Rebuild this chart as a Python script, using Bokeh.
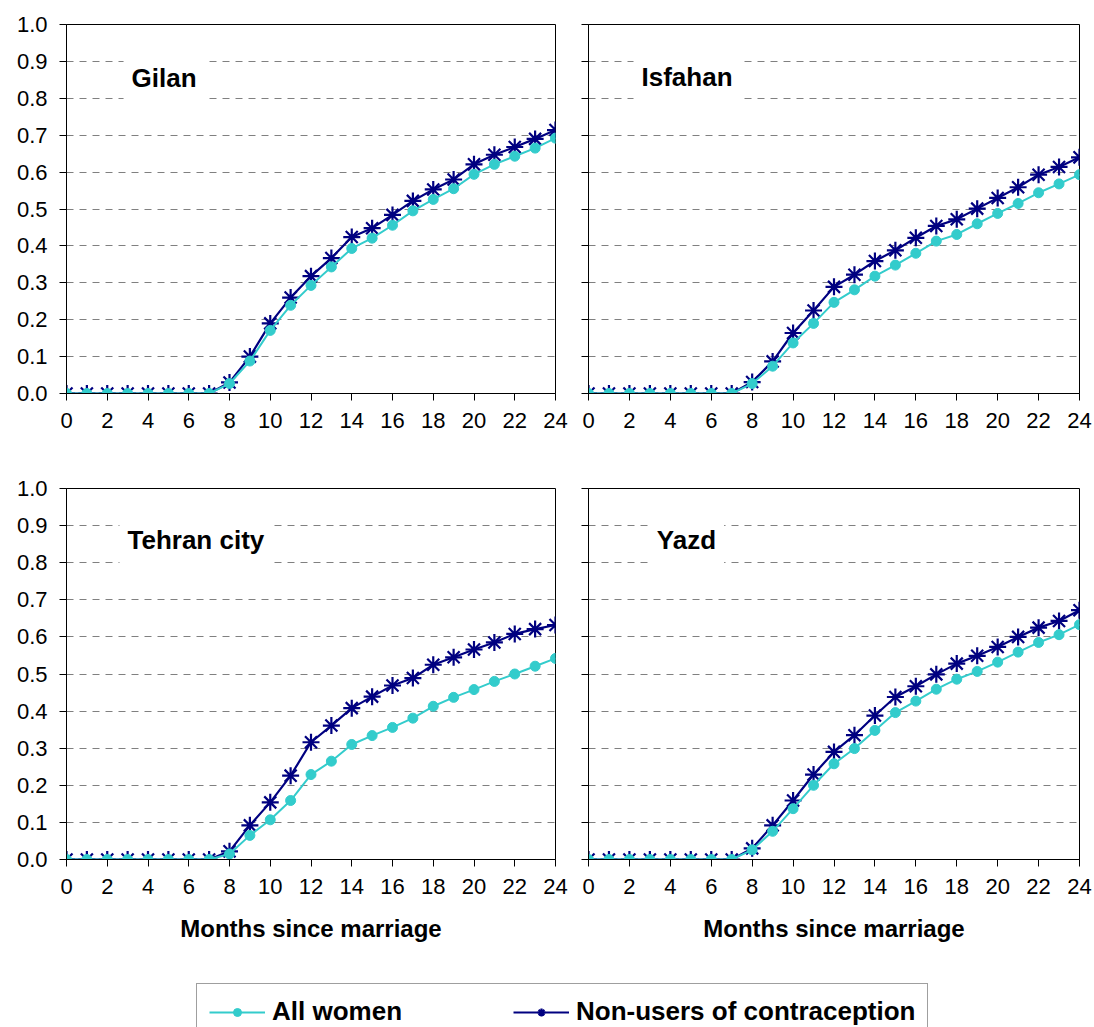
from bokeh.plotting import figure
from bokeh.layouts import column, row
from bokeh.models import (FixedTicker, Range1d, Label, Legend, LegendItem, NumeralTickFormatter,
                          CustomJSTickFormatter)
from bokeh.embed import file_html
from bokeh.resources import INLINE

months = [0, 1, 2, 3, 4, 5, 6, 7, 8, 9, 10, 11, 12, 13, 14, 15, 16, 17, 18, 19, 20, 21, 22, 23, 24]
x_ticks = [0, 2, 4, 6, 8, 10, 12, 14, 16, 18, 20, 22, 24]
y_ticks = [0.0, 0.1, 0.2, 0.3, 0.4, 0.5, 0.6, 0.7, 0.8, 0.9, 1.0]
grid_ticks = [0.1, 0.2, 0.3, 0.4, 0.5, 0.6, 0.7, 0.8, 0.9]

series_names = ["All women", "Non-users of contraception"]

gilan_all = [0, 0, 0, 0, 0, 0, 0, 0, 0.027, 0.088, 0.171, 0.239, 0.293, 0.343, 0.393, 0.421,
             0.456, 0.495, 0.526, 0.555, 0.594, 0.621, 0.643, 0.665, 0.692]
gilan_non = [0, 0, 0, 0, 0, 0, 0, 0, 0.030, 0.100, 0.190, 0.260, 0.318, 0.367, 0.424, 0.448,
             0.484, 0.522, 0.553, 0.580, 0.621, 0.647, 0.668, 0.690, 0.714]

isfahan_all = [0, 0, 0, 0, 0, 0, 0, 0, 0.027, 0.074, 0.137, 0.190, 0.247, 0.281, 0.318, 0.348,
               0.380, 0.413, 0.431, 0.460, 0.488, 0.515, 0.544, 0.568, 0.593]
isfahan_non = [0, 0, 0, 0, 0, 0, 0, 0, 0.031, 0.087, 0.164, 0.225, 0.289, 0.322, 0.359, 0.388,
               0.422, 0.454, 0.472, 0.501, 0.530, 0.559, 0.593, 0.614, 0.640]

tehran_all = [0, 0, 0, 0, 0, 0, 0, 0, 0.015, 0.065, 0.107, 0.159, 0.229, 0.265, 0.310, 0.334,
              0.356, 0.381, 0.413, 0.437, 0.458, 0.480, 0.500, 0.521, 0.542]
tehran_non = [0, 0, 0, 0, 0, 0, 0, 0, 0.022, 0.092, 0.154, 0.226, 0.316, 0.361, 0.408, 0.439,
              0.469, 0.489, 0.525, 0.545, 0.566, 0.585, 0.608, 0.621, 0.632]

yazd_all = [0, 0, 0, 0, 0, 0, 0, 0, 0.026, 0.076, 0.137, 0.200, 0.258, 0.299, 0.348, 0.396,
            0.427, 0.459, 0.486, 0.507, 0.532, 0.559, 0.585, 0.606, 0.633]
yazd_non = [0, 0, 0, 0, 0, 0, 0, 0, 0.030, 0.092, 0.159, 0.229, 0.290, 0.335, 0.388, 0.438,
            0.467, 0.499, 0.528, 0.549, 0.573, 0.600, 0.625, 0.643, 0.672]

CYAN = "#33CCCC"
NAVY = "#000080"
FONT = "Liberation Sans"


def draw_series(p, all_v, non_v):
    ln = p.line(months, non_v, line_color=NAVY, line_width=2.2)
    sn = p.scatter(months, non_v, marker="asterisk", size=17, line_color=NAVY, line_width=2.2)
    la = p.line(months, all_v, line_color=CYAN, line_width=2)
    sa = p.scatter(months, all_v, marker="circle", size=10, fill_color=CYAN, line_color=CYAN)
    return (la, sa), (ln, sn)


def panel(title, all_v, non_v, width, height, bl, br, bt, bb, show_ylabels, show_xlabel,
          tx, ty):
    p = figure(width=width, height=height, x_range=Range1d(0, 24), y_range=Range1d(0, 1),
               output_backend="svg", toolbar_location=None,
               min_border_left=bl, min_border_right=br, min_border_top=bt, min_border_bottom=bb)
    p.background_fill_color = "white"
    p.border_fill_color = "white"
    p.outline_line_color = "black"
    p.outline_line_width = 1
    p.xgrid.visible = False
    p.ygrid.ticker = FixedTicker(ticks=grid_ticks)
    p.ygrid.grid_line_color = "#808080"
    p.ygrid.grid_line_dash = "7 6"
    p.ygrid.grid_line_width = 1

    p.xaxis.ticker = FixedTicker(ticks=x_ticks)
    p.yaxis.ticker = FixedTicker(ticks=y_ticks)
    p.yaxis.formatter = NumeralTickFormatter(format="0.0")
    for ax in (p.xaxis, p.yaxis):
        ax.axis_line_color = "black"
        ax.axis_line_width = 1
        ax.major_tick_line_color = "black"
        ax.major_tick_in = 0
        ax.major_tick_out = 7
        ax.minor_tick_line_color = None
        ax.major_label_text_font = FONT
        ax.major_label_text_font_size = "22px"
        ax.major_label_text_color = "black"
    p.xaxis.major_label_standoff = 12
    p.yaxis.major_label_standoff = 12
    if not show_ylabels:
        p.yaxis.formatter = CustomJSTickFormatter(code="return ''")
        p.yaxis.major_label_standoff = 0
    if show_xlabel:
        p.xaxis.axis_label = "Months since marriage"
        p.xaxis.axis_label_text_font = FONT
        p.xaxis.axis_label_text_font_size = "24px"
        p.xaxis.axis_label_text_font_style = "bold"
        p.xaxis.axis_label_text_color = "black"
        p.xaxis.axis_label_standoff = 18

    draw_series(p, all_v, non_v)

    lab = Label(x=tx, y=ty, text=title, text_font=FONT, text_font_size="26px",
                text_font_style="bold", text_color="black", text_align="left",
                text_baseline="middle", background_fill_color="white",
                background_fill_alpha=1.0, padding=8)
    p.add_layout(lab)
    return p


tl = panel("Gilan", gilan_all, gilan_non, 576, 470, 66, 21, 24, 77, True, False, 2.8, 0.856)
tr = panel("Isfahan", isfahan_all, isfahan_non, 518, 470, 12, 15, 22, 77, False, False, 2.2, 0.857)
bl = panel("Tehran city", tehran_all, tehran_non, 576, 500, 66, 21, 18, 111, True, True, 2.6, 0.86)
br = panel("Yazd", yazd_all, yazd_non, 518, 500, 12, 15, 18, 111, False, True, 2.95, 0.86)

# legend strip
lg = figure(width=1094, height=57, x_range=Range1d(100, 101), y_range=Range1d(0, 1),
            output_backend="svg", toolbar_location=None,
            min_border_left=0, min_border_right=0, min_border_top=0, min_border_bottom=0)
lg.axis.visible = False
lg.grid.visible = False
lg.outline_line_color = None
(la, sa), (ln, sn) = draw_series(lg, gilan_all, gilan_non)
legend = Legend(items=[LegendItem(label=series_names[0], renderers=[la, sa]),
                       LegendItem(label=series_names[1], renderers=[ln, sn])],
                orientation="horizontal", location=(196, -13),
                label_text_font=FONT, label_text_font_size="26px",
                label_text_font_style="bold", label_text_color="black",
                glyph_width=56, glyph_height=20, label_standoff=7,
                label_width=180, spacing=61, padding=12,
                border_line_color="#404040", border_line_width=1.5,
                background_fill_color="white", background_fill_alpha=1.0)
legend.margin = 0
lg.add_layout(legend, "center")

layout = column(row(tl, tr), row(bl, br), lg)

open("out.html", "w").write(file_html(layout, INLINE))
